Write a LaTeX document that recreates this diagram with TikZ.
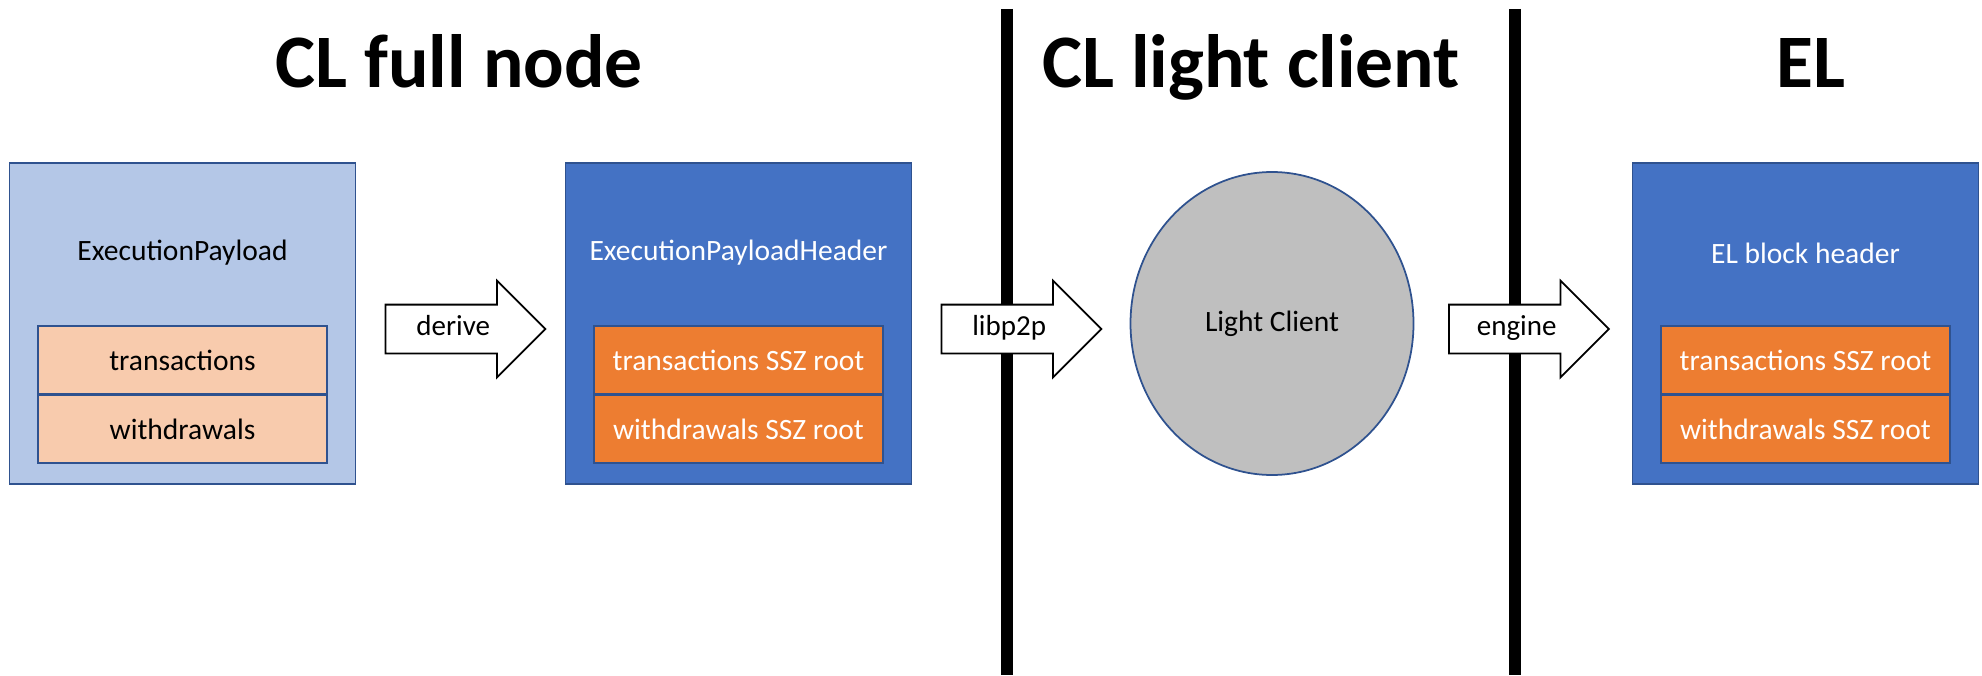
\documentclass[tikz,border=0pt]{standalone}
\usepackage{fontspec}
\setmainfont{Carlito}
\usetikzlibrary{shapes.arrows, shapes.geometric, positioning}
\definecolor{paleblue}{HTML}{B4C7E7}
\definecolor{midblue}{HTML}{4472C4}
\definecolor{edgeblue}{HTML}{2F528F}
\definecolor{paleorange}{HTML}{F8CBAD}
\definecolor{rootorange}{HTML}{ED7D31}
\definecolor{lcgray}{HTML}{BFBFBF}

\tikzset{
  container/.style={draw=edgeblue, line width=1pt, inner sep=0pt,
    minimum width=6.92cm, minimum height=6.42cm},
  field/.style={draw=edgeblue, line width=1pt, inner sep=0pt,
    minimum width=5.77cm, minimum height=1.35cm, font=\fontsize{16.8}{19}\selectfont},
  caption/.style={font=\fontsize{16.8}{19}\selectfont},
  heading/.style={font=\fontsize{43}{50}\selectfont\bfseries, anchor=base},
  blockarrow/.style={single arrow, draw=black, line width=1pt, fill=white,
    minimum height=3.2cm, single arrow head extend=0.48cm,
    text height=0.34cm, text depth=0.1cm, inner ysep=0.25cm, inner xsep=4pt,
    font=\fontsize{16.5}{19}\selectfont, anchor=tail},
  divider/.style={line width=0.24cm}
}

\begin{document}
\begin{tikzpicture}

\useasboundingbox (0,0) rectangle (39.64,13.5);

% Column headings
\node[heading] (hfull) at (9.18,11.74) {CL full node};
\node[heading] (hlight) at (25.02,11.74) {CL light client};
\node[heading] (hel) at (36.22,11.74) {EL};

% Column dividers
\coordinate (d1top) at (20.14,13.32);
\coordinate (d1bot) at (20.14,0);
\coordinate (d2top) at (30.3,13.32);
\coordinate (d2bot) at (30.3,0);
\draw[divider] (d1top) -- (d1bot);
\draw[divider] (d2top) -- (d2bot);

% --- CL full node: ExecutionPayload ---
\node[container, fill=paleblue] (ep) at (3.65,7.03) {};
\node[caption] (eplbl) at ([yshift=1.41cm]ep.center) {ExecutionPayload};
\node[field, fill=paleorange] (eptx) at ([yshift=-0.73cm]ep.center) {transactions};
\node[field, fill=paleorange, below=0pt of eptx] (epwd) {withdrawals};

% derive
\node[blockarrow] (derive) at (7.69,6.92) {derive};

% --- CL full node: ExecutionPayloadHeader ---
\node[container, fill=midblue] (eph) at (14.77,7.03) {};
\node[caption, text=white] (ephlbl) at ([yshift=1.41cm]eph.center) {ExecutionPayloadHeader};
\node[field, fill=rootorange, text=white] (ephtx) at ([yshift=-0.73cm]eph.center) {transactions SSZ root};
\node[field, fill=rootorange, text=white, below=0pt of ephtx] (ephwd) {withdrawals SSZ root};

% libp2p
\node[blockarrow] (libp2p) at (18.81,6.92) {libp2p};

% --- CL light client ---
\node[ellipse, draw=edgeblue, line width=1pt, fill=lcgray, inner sep=0pt,
      minimum width=5.66cm, minimum height=6.06cm, caption] (lc) at (25.44,7.03) {Light Client};

% engine
\node[blockarrow] (engine) at (28.96,6.92) {engine};

% --- EL block header ---
\node[container, fill=midblue] (elh) at (36.11,7.03) {};
\node[caption, text=white] (elhlbl) at ([yshift=1.41cm]elh.center) {EL block header};
\node[field, fill=rootorange, text=white] (elhtx) at ([yshift=-0.73cm]elh.center) {transactions SSZ root};
\node[field, fill=rootorange, text=white, below=0pt of elhtx] (elhwd) {withdrawals SSZ root};

\end{tikzpicture}
\end{document}
